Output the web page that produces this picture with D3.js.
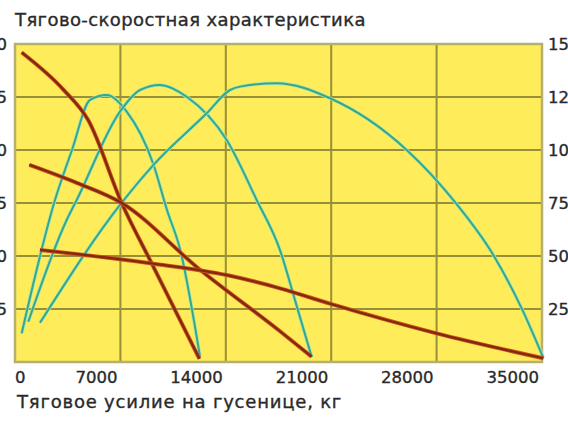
<!DOCTYPE html>
<html><head><meta charset="utf-8">
<script src="https://cdn.jsdelivr.net/npm/d3@7"></script>
<style>html,body{margin:0;padding:0;background:#fff;overflow:hidden}</style>
</head><body>
<svg id="c" width="568" height="426"></svg>
<script>
// Data
const titleText = "Тягово-скоростная характеристика";
const xAxisTitle = "Тяговое усилие на гусенице, кг";
const xTicks = [0, 7000, 14000, 21000, 28000, 35000];
const leftTicks = [5, 10, 15, 20, 25, 30];     // speed, km/h
const rightTicks = [25, 50, 75, 100, 125, 150]; // power

// speed (left axis) vs traction force
const speedGear1 = [[445,29.2],[3208,25.7],[4868,22.8],[7085,15.0],[9080,9.3],[12250,0.3]];
const speedGear2 = [[950,18.6],[4100,16.9],[7085,15.0],[12290,8.7],[17600,2.9],[19700,0.5]];
const speedGear3 = [[1660,10.57],[9080,9.3],[14060,8.2],[17600,6.95],[20920,5.5],[28000,2.7],[35090,0.35]];

// power (right axis) vs traction force
const powerGear1 = [[445,13.5],[2656,76.4],[3785,100],[4981,123.6],[6090,125.9],[7418,118.1],[9185,93.4],[10094,71.7],[10958,53.3],[12286,2.5]];
const powerGear2 = [[883,19.0],[3433,67.0],[4098,76.4],[6973,118.1],[8301,128.3],[9630,130.7],[11403,125.1],[14059,104.7],[16051,76.4],[17599,52.8],[18595,29.2],[19704,2.4]];
const powerGear3 = [[1660,18.5],[6973,74.1],[9185,92.9],[12731,117.3],[14278,128.3],[14942,129.9],[17380,131.5],[20919,124.4],[26013,100],[29280,74.9],[31765,50.5],[33650,25.3],[35084,2.0]];

const svg = d3.select("#c");
const L = 15, R = 542, T = 44, B = 362;
const x = d3.scaleLinear().domain([0, 35000]).range([L, R]);
const yL = d3.scaleLinear().domain([0, 30]).range([B, T]);
const yR = d3.scaleLinear().domain([0, 150]).range([B, T]);

const font = "DejaVu Sans, Verdana, sans-serif";

svg.append("rect").attr("x", L).attr("y", T).attr("width", R - L).attr("height", B - T)
  .attr("fill", "#FEEC5A");

// grid
svg.append("g").selectAll("line").data(xTicks.slice(1, -1)).join("line")
  .attr("x1", d => x(d)).attr("x2", d => x(d)).attr("y1", T).attr("y2", B)
  .attr("stroke", "#969038").attr("stroke-width", 2);
svg.append("g").selectAll("line").data(rightTicks.slice(0, -1)).join("line")
  .attr("y1", d => yR(d)).attr("y2", d => yR(d)).attr("x1", L).attr("x2", R)
  .attr("stroke", "#969038").attr("stroke-width", 2);

svg.append("rect").attr("x", L).attr("y", T).attr("width", R - L).attr("height", B - T)
  .attr("fill", "none").attr("stroke", "#B6B070").attr("stroke-width", 2.5);

// lines
function drawLine(data, yScale, outer, inner, wo, wi) {
  const g = d3.line().x(d => x(d[0])).y(d => yScale(d[1])).curve(d3.curveMonotoneX);
  svg.append("path").datum(data).attr("d", g).attr("fill", "none")
    .attr("stroke", outer).attr("stroke-width", wo).attr("stroke-linejoin", "round");
  svg.append("path").datum(data).attr("d", g).attr("fill", "none")
    .attr("stroke", inner).attr("stroke-width", wi).attr("stroke-linejoin", "round");
}
const tealOuter = "#A6E8B4", tealInner = "#37A68A";
drawLine(powerGear1, yR, tealOuter, tealInner, 3.5, 2);
drawLine(powerGear2, yR, tealOuter, tealInner, 3.5, 2);
drawLine(powerGear3, yR, tealOuter, tealInner, 3.5, 2);
const redOuter = "#D0501C", redInner = "#7E2A12";
drawLine(speedGear1, yL, redOuter, redInner, 4, 2.2);
drawLine(speedGear2, yL, redOuter, redInner, 4, 2.2);
drawLine(speedGear3, yL, redOuter, redInner, 4, 2.2);

// axes labels
const txtCol = "#2a2a2a";
function styleText(s, size) {
  return s.attr("font-family", font).attr("font-size", size).attr("fill", txtCol)
    .attr("stroke", txtCol).attr("stroke-width", 0.35);
}
styleText(svg.append("g").selectAll("text").data(xTicks).join("text")
  .attr("x", d => d === 0 ? L : x(d) - 3)
  .attr("y", 383)
  .attr("text-anchor", d => d === 0 ? "start" : "end"), 16.5)
  .text(d => d);
styleText(svg.append("g").selectAll("text").data(leftTicks).join("text")
  .attr("x", 7).attr("y", d => yL(d)).attr("dy", "0.36em")
  .attr("text-anchor", "end"), 16.5)
  .text(d => d);
styleText(svg.append("g").selectAll("text").data(rightTicks).join("text")
  .attr("x", 548).attr("y", d => yR(d)).attr("dy", "0.36em")
  .attr("text-anchor", "start"), 16.5)
  .text(d => d);

styleText(svg.append("text").attr("x", 15).attr("y", 26), 18)
  .attr("letter-spacing", 0.4)
  .text(titleText);
styleText(svg.append("text").attr("x", 17).attr("y", 408), 18)
  .attr("letter-spacing", 0.8)
  .text(xAxisTitle);
</script>
</body></html>
